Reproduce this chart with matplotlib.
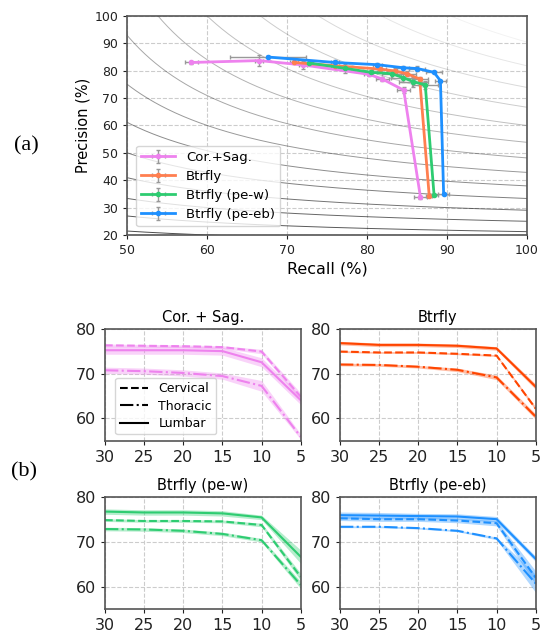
import numpy as np
import matplotlib
matplotlib.use("Agg")
import matplotlib.pyplot as plt
from matplotlib.lines import Line2D

# ---- top: precision / recall curves ----
names = ["Cor.+Sag.", "Btrfly", "Btrfly (pe-w)", "Btrfly (pe-eb)"]
colors_top = ["violet", "coral", "#2ecc71", "dodgerblue"]

rec_cs = [58.0, 66.5, 72.0, 80.2, 81.9, 84.6, 86.7]
prec_cs = [83.0, 83.7, 82.1, 78.7, 77.0, 72.9, 33.8]
rec_bt = [70.9, 76.0, 81.6, 83.5, 85.0, 86.6, 87.8]
prec_bt = [83.0, 81.8, 80.6, 79.9, 78.9, 77.0, 34.1]
rec_pw = [72.8, 77.2, 80.5, 83.1, 84.5, 85.8, 87.3, 88.4]
prec_pw = [82.8, 80.9, 79.4, 78.9, 77.5, 76.0, 74.8, 34.6]
rec_pe = [67.6, 76.0, 81.3, 84.5, 86.3, 88.4, 89.2, 89.6]
prec_pe = [85.0, 83.0, 82.2, 81.1, 80.8, 79.4, 76.3, 34.9]

xerr_cs = [0.8, 0.5, 0.5, 0.6, 0.8, 0.8, 0.8]
yerr_cs = [0.4, 1.9, 1.3, 0.6, 0.8, 1.0, 0.5]
xerr_bt = [0.5, 0.5, 0.8, 1.0, 1.2, 1.0, 0.4]
yerr_bt = [0.4, 0.5, 0.8, 1.0, 1.0, 0.6, 0.4]
xerr_pw = [0.5, 0.8, 0.8, 1.2, 1.5, 1.8, 1.6, 0.5]
yerr_pw = [0.4, 1.6, 1.0, 1.4, 1.8, 1.8, 1.3, 0.4]
xerr_pe = [4.8, 0.5, 0.6, 0.8, 1.0, 1.0, 0.7, 0.7]
yerr_pe = [0.4, 0.8, 0.5, 0.6, 0.8, 0.4, 0.4, 0.4]

f_levels = [0.3, 0.35, 0.4, 0.45, 0.5, 0.55, 0.6, 0.65, 0.7, 0.75, 0.8, 0.85, 0.9, 0.95]

# ---- bottom: score vs threshold ----
thr = [30, 25, 20, 15, 10, 5]
panel_titles = ["Cor. + Sag.", "Btrfly", "Btrfly (pe-w)", "Btrfly (pe-eb)"]
colors_bot = ["violet", "orangered", "#2ecc71", "dodgerblue"]

cerv = [
    [76.4, 76.3, 76.2, 76.0, 75.0, 64.9],
    [75.0, 74.8, 74.8, 74.5, 74.1, 62.2],
    [74.9, 74.7, 74.7, 74.6, 73.8, 62.2],
    [75.3, 75.1, 75.1, 74.8, 74.2, 62.0],
]
thor = [
    [70.8, 70.6, 70.2, 69.5, 67.3, 55.9],
    [72.1, 72.0, 71.6, 70.9, 69.2, 60.4],
    [72.9, 72.8, 72.5, 71.8, 70.4, 60.4],
    [73.4, 73.4, 73.1, 72.5, 70.8, 60.7],
]
lumb = [
    [75.3, 75.3, 75.3, 75.1, 72.6, 64.1],
    [76.9, 76.5, 76.5, 76.3, 75.7, 67.1],
    [76.8, 76.6, 76.6, 76.4, 75.5, 66.7],
    [76.0, 75.9, 75.8, 75.7, 75.1, 66.2],
]
cerv_sd = [
    [0.3, 0.3, 0.3, 0.3, 0.5, 0.8],
    [0.2, 0.2, 0.2, 0.2, 0.2, 0.4],
    [0.3, 0.3, 0.3, 0.3, 0.4, 0.8],
    [0.5, 0.5, 0.5, 0.5, 0.6, 1.5],
]
thor_sd = [
    [0.7, 0.7, 0.7, 0.7, 1.2, 0.6],
    [0.3, 0.3, 0.3, 0.4, 0.5, 0.6],
    [0.4, 0.4, 0.4, 0.4, 0.4, 0.8],
    [0.2, 0.2, 0.2, 0.2, 0.3, 2.0],
]
lumb_sd = [
    [0.9, 0.9, 0.9, 0.9, 1.0, 1.0],
    [0.4, 0.4, 0.4, 0.4, 0.4, 0.6],
    [0.6, 0.6, 0.6, 0.6, 0.5, 1.5],
    [0.7, 0.7, 0.6, 0.6, 0.6, 0.6],
]

spine_col = "#555555"
fig = plt.figure(figsize=(5.41, 6.33), dpi=100)

# ---------------- (a) ----------------
ax = fig.add_axes([0.2353, 0.6288, 0.7383, 0.346])
rr = np.linspace(1, 100, 600)
for f in f_levels:
    F = f * 100
    with np.errstate(divide="ignore", invalid="ignore"):
        pp = F * rr / (2 * rr - F)
    ok = (2 * rr - F) > 0
    ax.plot(rr[ok], pp[ok], color="k", alpha=max(0.05, 1 - f), lw=0.7, zorder=1)

series = [
    (rec_cs, prec_cs, xerr_cs, yerr_cs),
    (rec_bt, prec_bt, xerr_bt, yerr_bt),
    (rec_pw, prec_pw, xerr_pw, yerr_pw),
    (rec_pe, prec_pe, xerr_pe, yerr_pe),
]
for (r, p, xe, ye), c, n in zip(series, colors_top, names):
    ax.errorbar(r, p, xerr=xe, yerr=ye, color=c, ecolor="#999999", elinewidth=1.0,
                capsize=1.5, lw=2, marker="o", ms=3, label=n, zorder=3)

ax.set_xlim(50, 100)
ax.set_ylim(20, 100)
ax.set_xticks(range(50, 101, 10))
ax.set_yticks(range(20, 101, 10))
ax.grid(True, ls="--", color="#cccccc", lw=0.8)
ax.set_axisbelow(True)
ax.tick_params(labelsize=9, colors="#222222", length=3)
for s in ax.spines.values():
    s.set_color(spine_col)
    s.set_linewidth(1.2)
ax.set_xlabel("Recall (%)", fontsize=11.5, labelpad=3)
ax.set_ylabel("Precision (%)", fontsize=10.5, labelpad=3)
leg = ax.legend(loc="lower left", fontsize=9.5, handlelength=2.6, borderpad=0.4,
                labelspacing=0.45, bbox_to_anchor=(0.005, 0.01))
leg.get_frame().set_edgecolor("#cccccc")

fig.text(0.048, 0.77, "(a)", fontsize=16, family="Liberation Serif", ha="center", va="center")

# ---------------- (b) ----------------
positions = [
    [0.1941, 0.3038, 0.3617, 0.176],
    [0.6285, 0.3038, 0.3617, 0.176],
    [0.1941, 0.0379, 0.3617, 0.1765],
    [0.6285, 0.0379, 0.3617, 0.1765],
]
for i in range(4):
    b = fig.add_axes(positions[i])
    c = colors_bot[i]
    for vals, sd, ls in [(cerv[i], cerv_sd[i], "--"), (thor[i], thor_sd[i], "-."),
                         (lumb[i], lumb_sd[i], "-")]:
        v = np.array(vals)
        s = np.array(sd)
        b.fill_between(thr, v - s, v + s, color=c, alpha=0.35, lw=0)
        b.plot(thr, v, color=c, ls=ls, lw=1.5)
    b.set_xlim(30, 5)
    b.set_ylim(55, 80)
    b.set_xticks(thr)
    b.set_yticks([60, 70, 80])
    b.grid(True, ls="--", color="#cccccc", lw=0.8)
    b.set_axisbelow(True)
    b.tick_params(labelsize=11.5, length=3, colors="#222222")
    for s in b.spines.values():
        s.set_color(spine_col)
        s.set_linewidth(1.2)
    b.set_title(panel_titles[i], fontsize=10.5, pad=5)
    if i == 0:
        handles = [Line2D([], [], color="k", ls="--", lw=1.5),
                   Line2D([], [], color="k", ls="-.", lw=1.5),
                   Line2D([], [], color="k", ls="-", lw=1.5)]
        lg = b.legend(handles, ["Cervical", "Thoracic", "Lumbar"], loc="lower left",
                      fontsize=9, handlelength=2.3, labelspacing=0.35, borderpad=0.35,
                      bbox_to_anchor=(0.02, 0.0))
        lg.get_frame().set_edgecolor("#cccccc")

fig.text(0.045, 0.254, "(b)", fontsize=16, family="Liberation Serif", ha="center", va="center")

fig.savefig("out.png", dpi=100)
